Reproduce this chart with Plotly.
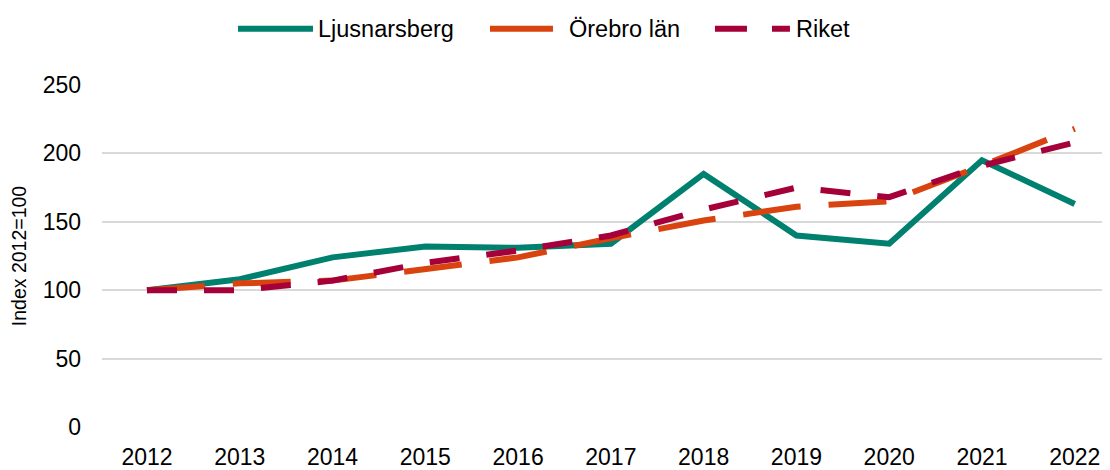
import plotly.graph_objects as go

years = [2012, 2013, 2014, 2015, 2016, 2017, 2018, 2019, 2020, 2021, 2022]
ljusnarsberg = [100, 108, 124, 132, 131, 134, 185, 140, 134, 195, 163]
orebro_lan = [100, 105, 107, 116, 124, 138, 151, 161, 165, 191, 218]
riket = [100, 100, 107, 120, 129, 140, 159, 175, 168, 191, 208]

series = [
    ('Ljusnarsberg', ljusnarsberg, '#00806e', 'solid'),
    ('Örebro län', orebro_lan, '#d8430f', '58px,28px'),
    ('Riket', riket, '#a6003a', '30px,27px'),
]

fig = go.Figure()

# Ljusnarsberg underst, Riket överst
for name, vals, color, dash in series:
    fig.add_trace(go.Scatter(
        x=years, y=vals, name=name,
        mode='lines', line=dict(color=color, width=6, dash=dash),
        hoverinfo='skip', showlegend=False
    ))

# ── Legend (drawn by hand so the spacing matches) ──
# (x0, x1, text x) in paper units, line dash for the symbol
legend_items = [
    (0.1349, 0.2093, 0.2123, 'solid'),
    (0.3849, 0.4474, 0.4613, 'solid'),
    (0.6081, 0.6825, 0.6865, '32px,25px'),
]
legend_y = 1.1647
for (name, _, color, _), (x0, x1, tx, dash) in zip(series, legend_items):
    fig.add_shape(type='line', xref='paper', yref='paper',
                  x0=x0, x1=x1, y0=legend_y, y1=legend_y,
                  line=dict(color=color, width=6, dash=dash))
    fig.add_annotation(x=tx, y=legend_y, xref='paper', yref='paper',
                       text=name, showarrow=False,
                       xanchor='left', yanchor='middle',
                       font=dict(size=23.5, color='#000000'))

fig.update_layout(
    width=1102, height=462,
    paper_bgcolor='white',
    plot_bgcolor='white',
    font=dict(family='Liberation Sans, Arial, sans-serif', color='#000000', size=23),
    margin=dict(l=94, r=0, t=77, b=39),
    showlegend=False,
    xaxis=dict(
        range=[2011.515, 2022.38],
        tickvals=years,
        ticktext=[str(y) for y in years],
        showgrid=False, zeroline=False, showline=False,
        ticks='', ticklabelstandoff=14,
        fixedrange=True,
    ),
    yaxis=dict(
        range=[0, 250],
        tickvals=[0, 50, 100, 150, 200, 250],
        showgrid=True, gridcolor='#d9d9d9', gridwidth=1.5,
        zeroline=False, showline=False,
        ticks='', ticklabelstandoff=20,
        title=dict(text='Index 2012=100', font=dict(size=19.5), standoff=10),
        fixedrange=True,
    ),
)

fig.write_html("out.html")
